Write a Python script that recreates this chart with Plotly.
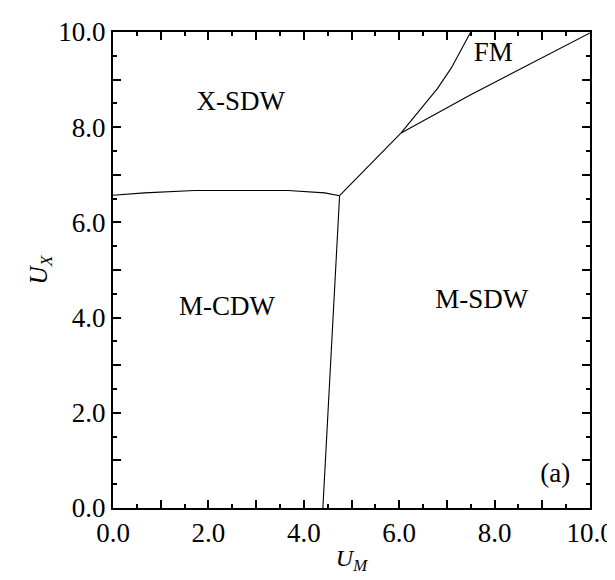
import plotly.graph_objects as go

# Phase boundaries (U_M, U_X)
cdw_xsdw_um = [0.0, 0.66, 1.71, 2.41, 3.25, 3.67, 4.44, 4.75]
cdw_xsdw_ux = [6.57, 6.62, 6.67, 6.67, 6.68, 6.67, 6.62, 6.56]

cdw_msdw_um = [4.75, 4.40]
cdw_msdw_ux = [6.56, 0.0]

xsdw_msdw_um = [4.75, 6.04]
xsdw_msdw_ux = [6.56, 7.88]

xsdw_fm_um = [6.04, 6.80, 7.09, 7.50]
xsdw_fm_ux = [7.88, 8.81, 9.24, 10.0]

fm_msdw_um = [6.04, 7.48, 10.0]
fm_msdw_ux = [7.88, 8.67, 9.98]

phase_labels = ["X-SDW", "M-CDW", "M-SDW", "FM", "(a)"]
phase_label_um = [2.68, 2.39, 7.73, 7.97, 9.27]
phase_label_ux = [8.5, 4.2, 4.34, 9.53, 0.69]

tick_vals = [0, 1, 2, 3, 4, 5, 6, 7, 8, 9, 10]
tick_text = ["0.0", "", "2.0", "", "4.0", "", "6.0", "", "8.0", "", "10.0"]

fig = go.Figure()
for xs, ys in [(cdw_xsdw_um, cdw_xsdw_ux), (cdw_msdw_um, cdw_msdw_ux),
               (xsdw_msdw_um, xsdw_msdw_ux), (xsdw_fm_um, xsdw_fm_ux),
               (fm_msdw_um, fm_msdw_ux)]:
    fig.add_trace(go.Scatter(x=xs, y=ys, mode="lines",
                             line=dict(color="black", width=1.1),
                             showlegend=False, hoverinfo="skip"))

fig.add_trace(go.Scatter(x=phase_label_um, y=phase_label_ux, mode="text",
                         text=phase_labels,
                         textfont=dict(family="Liberation Serif", size=27, color="black"),
                         showlegend=False, hoverinfo="skip"))

axis_common = dict(
    range=[0, 10], showgrid=False, zeroline=False, automargin=False,
    showline=True, linecolor="black", linewidth=2, mirror="ticks",
    ticks="inside", ticklen=8, tickwidth=2, tickcolor="black",
    tickmode="array", tickvals=tick_vals, ticktext=tick_text,
    tickfont=dict(family="Liberation Serif", size=27, color="black"),
    minor=dict(dtick=0.5, ticks="inside", ticklen=4, tickwidth=1.5, tickcolor="black"),
)

fig.update_xaxes(**axis_common,
                 title=dict(text="<i>U</i><sub><i>M</i></sub>",
                            font=dict(family="Liberation Serif", size=24, color="black"),
                            standoff=2))
fig.update_yaxes(**axis_common,
                 title=dict(text="<i>U</i><sub><i>X</i></sub>",
                            font=dict(family="Liberation Serif", size=25, color="black"),
                            standoff=4))

fig.update_layout(
    width=615, height=580,
    margin=dict(l=105, r=33, t=24, b=80),
    plot_bgcolor="white", paper_bgcolor="white",
)

fig.write_html("out.html")
